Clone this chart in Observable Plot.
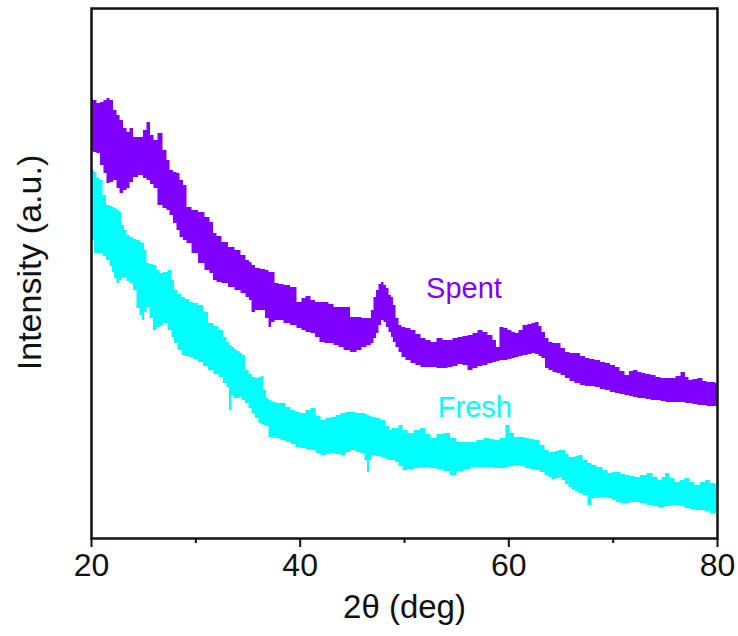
<!DOCTYPE html>
<html>
<head>
<meta charset="utf-8">
<script src="https://cdn.jsdelivr.net/npm/d3@7"></script>
<script src="https://cdn.jsdelivr.net/npm/@observablehq/plot@0.6"></script>
<style>
  html, body { margin: 0; padding: 0; background: #fff; }
  #chart { width: 738px; height: 636px; }
</style>
</head>
<body>
<div id="chart"></div>
<script>
// 2θ (deg) sample positions and upper/lower envelope of the noisy XRD trace (a.u.)
const spentDeg = [20.00,20.38,20.67,21.05,21.34,21.63,21.92,22.30,22.59,22.88,23.26,23.55,23.83,24.22,24.79,25.18,25.46,25.85,26.13,26.61,27.09,27.38,27.67,28.05,28.34,28.63,29.01,29.30,29.97,30.54,31.21,31.50,31.89,32.17,32.84,33.42,34.09,34.57,35.05,35.24,35.53,35.91,36.49,36.87,37.16,37.35,37.83,38.12,38.79,39.36,40.03,40.32,40.80,41.28,41.66,42.14,42.62,42.91,43.58,43.87,44.54,45.11,45.78,46.07,46.74,46.93,47.22,47.41,47.70,47.89,48.18,48.37,48.66,48.85,49.04,49.33,49.62,49.90,50.38,50.86,51.34,51.82,52.30,52.78,53.45,53.93,54.41,54.89,55.37,55.85,56.33,56.81,57.28,57.76,58.24,58.72,58.91,59.39,59.68,60.16,60.45,60.83,61.12,61.60,62.08,62.36,62.75,63.04,63.32,63.71,63.99,64.47,64.76,65.24,65.62,66.10,66.58,67.16,67.54,68.02,68.50,69.07,69.46,70.03,70.42,70.90,71.37,71.76,72.14,72.62,72.91,73.39,73.87,74.35,74.83,75.31,75.78,76.26,76.74,77.12,77.41,77.89,78.37,78.85,79.14,79.62,80.00];
const spentHi = [440,438,435,436,438,440,438,428,423,418,410,406,410,401,401,408,416,403,398,405,388,378,368,366,365,358,353,331,328,326,321,316,305,302,296,291,288,283,278,276,273,270,269,268,266,266,255,254,253,251,236,240,242,238,236,236,236,234,231,231,231,221,221,220,220,228,241,248,254,256,253,250,243,241,233,220,213,211,210,208,204,200,198,196,200,198,198,200,201,202,203,205,208,206,203,198,191,211,210,208,206,205,208,213,214,215,216,212,206,200,196,195,195,190,186,185,185,182,180,179,178,176,175,173,171,167,163,167,168,166,165,164,163,161,160,160,160,162,166,161,158,159,160,157,156,156,155];
const spentLo = [388,386,385,373,365,355,356,358,350,345,348,350,356,361,363,360,358,354,350,333,330,328,323,315,308,301,298,295,285,275,268,265,258,256,255,251,248,245,241,238,226,228,228,220,211,216,218,218,215,213,210,208,206,205,201,196,195,195,193,191,188,186,188,191,193,195,200,205,213,218,216,211,206,201,196,191,186,181,178,175,173,171,171,171,170,170,171,172,174,173,168,170,172,173,175,176,177,178,178,179,180,181,182,183,184,185,184,182,180,170,168,166,165,163,160,157,155,153,152,152,151,149,148,146,145,144,143,142,141,140,140,139,138,138,137,136,136,136,136,135,135,134,133,133,132,132,132];

const freshDeg = [20.00,20.19,20.38,20.67,20.96,21.25,21.63,21.92,22.11,22.30,22.59,22.78,23.07,23.26,23.55,23.83,24.22,24.50,24.79,24.98,25.18,25.46,25.75,26.13,26.42,26.71,27.09,27.57,27.86,28.05,28.53,28.82,29.20,29.59,29.97,30.54,30.93,31.50,31.98,32.46,32.84,33.13,33.32,33.61,33.80,34.09,34.38,34.57,34.95,35.24,35.53,35.91,36.20,36.39,36.68,36.87,37.16,37.44,37.92,38.40,38.88,39.36,39.84,40.32,40.80,41.28,41.76,42.24,42.72,43.20,43.67,44.15,44.63,45.11,45.59,46.07,46.36,46.55,46.74,47.03,47.51,47.99,48.47,48.66,48.95,49.33,49.62,50.10,50.58,51.25,51.82,52.30,52.78,53.45,54.12,54.70,55.37,56.04,56.61,57.28,57.96,58.44,58.91,59.49,59.97,60.26,60.83,61.31,61.79,62.27,62.75,63.23,63.71,63.99,64.28,64.66,64.95,65.24,65.62,65.91,66.20,66.58,66.87,67.35,67.83,68.12,68.79,69.27,69.75,70.13,70.51,70.99,71.37,71.85,72.33,72.91,73.58,74.06,74.54,74.83,75.21,75.69,76.17,76.64,77.12,77.60,78.08,78.66,79.04,79.62,80.00];
const freshHi = [370,368,366,360,358,343,333,332,331,330,328,326,313,308,303,301,299,298,296,295,288,275,274,273,268,265,266,268,258,248,244,241,239,236,235,233,226,215,212,208,201,196,193,191,189,187,185,183,168,164,161,160,161,162,148,140,138,136,135,135,131,128,126,125,128,130,122,118,120,121,123,125,126,126,125,125,124,123,122,121,120,118,112,108,110,110,113,108,105,108,110,104,100,104,105,100,96,96,96,98,100,99,98,100,113,105,101,101,100,99,98,93,88,86,86,87,88,88,84,81,81,82,83,78,75,73,71,68,65,66,66,64,63,62,61,63,65,61,58,61,65,60,56,58,60,56,53,56,58,55,54];
const freshLo = [316,298,285,285,285,282,278,272,266,260,255,258,261,260,257,255,248,230,223,218,226,231,220,208,211,213,215,208,201,195,188,183,182,181,179,176,172,168,164,161,155,151,128,143,140,140,141,138,135,130,125,120,115,114,113,112,101,101,100,98,96,94,91,90,89,88,85,83,84,85,84,83,86,88,86,85,78,66,78,83,82,81,79,78,78,76,72,68,69,70,71,71,70,69,67,63,67,69,71,71,71,71,70,70,71,72,73,72,70,69,68,66,63,61,59,60,61,58,54,51,49,47,45,43,33,40,41,41,40,38,36,35,35,36,36,35,33,32,31,31,32,33,33,32,30,29,28,28,27,25,25];

// x-axis ticks
const majorTicks = [20, 40, 60, 80];
const minorTicks = [30, 50, 70];

// series labels
const seriesNames = ["Spent", "Fresh"];
const labelDeg = [55.7, 56.75];
const labelVal = [250, 131];
const seriesColors = ["#8000ff", "#00ffff"];

const spent = spentDeg.map((d, i) => ({deg: d, hi: spentHi[i], lo: spentLo[i]}));
const fresh = freshDeg.map((d, i) => ({deg: d, hi: freshHi[i], lo: freshLo[i]}));
const labels = seriesNames.map((s, i) => ({name: s, deg: labelDeg[i], val: labelVal[i], color: seriesColors[i]}));

const chart = Plot.plot({
  width: 738,
  height: 636,
  marginLeft: 91,
  marginRight: 21,
  marginTop: 8,
  marginBottom: 98,
  style: {fontFamily: "'Liberation Sans', Arial, sans-serif", background: "#fff", color: "#111"},
  x: {domain: [20, 80]},
  y: {domain: [0, 530], axis: null},
  marks: [
    Plot.areaY(fresh, {x: "deg", y1: "lo", y2: "hi", fill: seriesColors[1], curve: "step"}),
    Plot.areaY(spent, {x: "deg", y1: "lo", y2: "hi", fill: seriesColors[0], curve: "step"}),
    Plot.text(labels, {x: "deg", y: "val", text: "name", fill: "color", fontSize: 29}),
    Plot.axisX({ticks: minorTicks, tickSize: 5, text: null, label: null, strokeWidth: 2, stroke: "#111"}),
    Plot.axisX({ticks: majorTicks, tickSize: 9, tickPadding: 6, fontSize: 32, label: null, strokeWidth: 2, stroke: "#111", fill: "#111"}),
    Plot.frame({stroke: "#111", strokeWidth: 2.5}),
    Plot.text(["2θ (deg)"], {frameAnchor: "bottom", dy: 69, lineAnchor: "middle", textAnchor: "middle", fontSize: 33, fill: "#111"}),
    Plot.text(["Intensity (a.u.)"], {frameAnchor: "left", dx: -61, dy: -11, rotate: -90, textAnchor: "middle", lineAnchor: "middle", fontSize: 34, fill: "#111"})
  ]
});
document.getElementById("chart").appendChild(chart);
</script>
</body>
</html>
